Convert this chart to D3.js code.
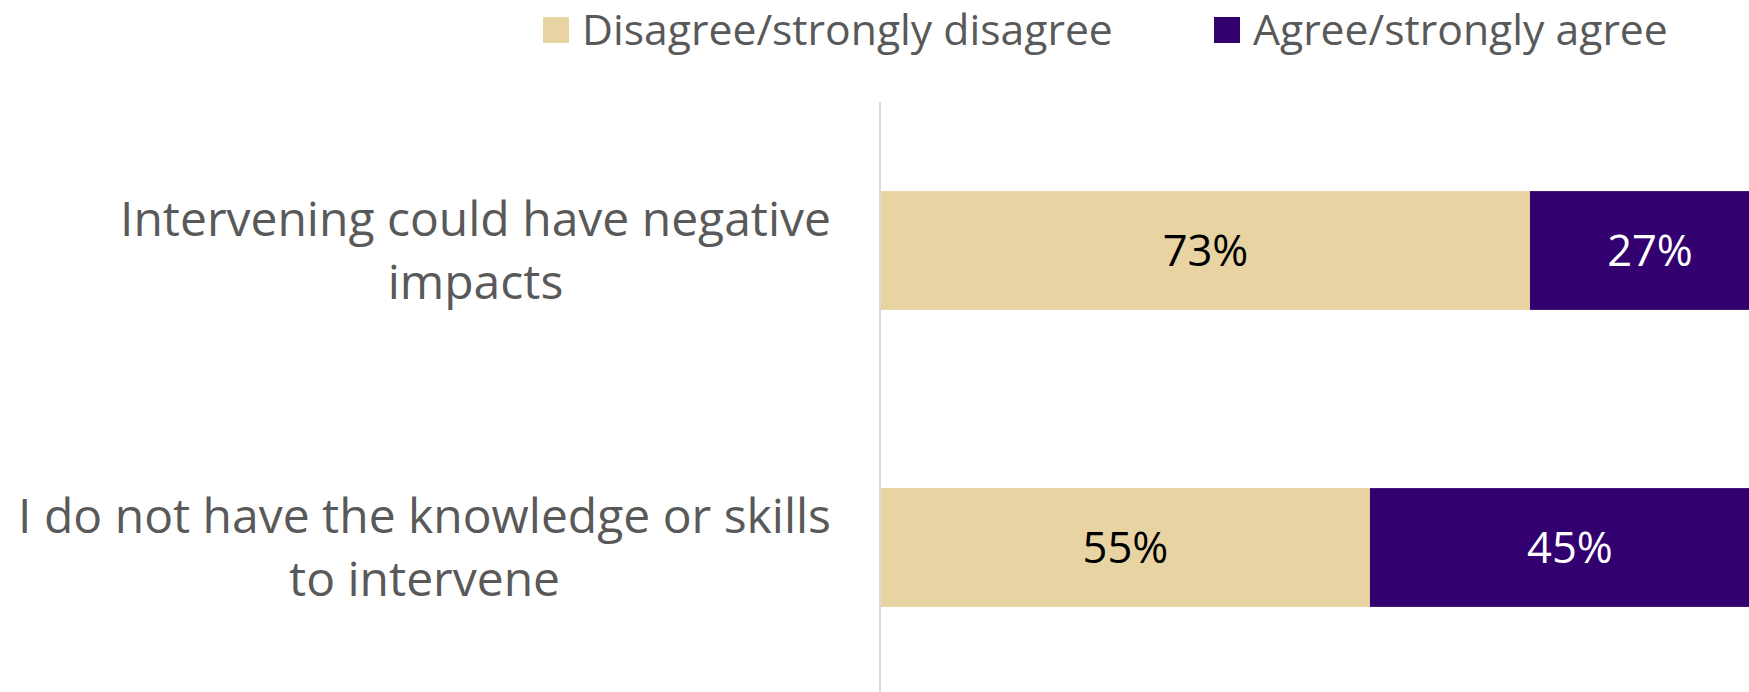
<!DOCTYPE html>
<html>
<head>
<meta charset="utf-8">
<script src="https://cdn.jsdelivr.net/npm/d3@7"></script>
<style>
  html, body { margin: 0; padding: 0; background: #ffffff; }
  svg { display: block; }
  text { font-family: "Open Sans", "Noto Sans", sans-serif; }
</style>
</head>
<body>
<svg id="chart" width="1749" height="692"></svg>
<script>
// Survey statements (each label split into its display lines)
const categories = [
  "Intervening could have negative impacts",
  "I do not have the knowledge or skills to intervene"
];
const categoryLines = [
  ["Intervening could have negative", "impacts"],
  ["I do not have the knowledge or skills", "to intervene"]
];
const seriesNames = ["Disagree/strongly disagree", "Agree/strongly agree"];
const disagree = [73, 55];
const agree = [27, 45];
const seriesColors = ["#E8D3A2", "#33006F"];
const valueTextColors = ["#000000", "#ffffff"];

const W = 1749, H = 692;
const svg = d3.select("#chart");

const plotLeft = 881, plotRight = 1770, plotTop = 102, plotBottom = 696;

const x = d3.scaleLinear().domain([0, 100]).range([plotLeft, plotRight]);
const y = d3.scaleBand()
  .domain(categories)
  .range([plotTop, plotBottom])
  .paddingInner(0.6)
  .paddingOuter(0.3);

// Stack the two answers per statement
const rows = categories.map((c, i) => ({ cat: c, d: disagree[i], a: agree[i] }));
const stack = d3.stack().keys(["d", "a"]);
const layers = stack(rows);

const barG = svg.append("g");
layers.forEach((layer, li) => {
  barG.selectAll(null)
    .data(layer)
    .join("rect")
    .attr("x", d => x(d[0]))
    .attr("y", d => y(d.data.cat))
    .attr("width", d => x(d[1]) - x(d[0]))
    .attr("height", y.bandwidth())
    .attr("fill", seriesColors[li]);

  barG.selectAll(null)
    .data(layer)
    .join("text")
    .attr("x", d => (x(d[0]) + x(d[1])) / 2)
    .attr("y", d => y(d.data.cat) + y.bandwidth() / 2)
    .attr("dy", "0.36em")
    .attr("text-anchor", "middle")
    .attr("font-size", 43.5)
    .attr("fill", valueTextColors[li])
    .text(d => (d[1] - d[0]) + "%");
});

// Vertical category axis line
svg.append("line")
  .attr("x1", plotLeft - 1).attr("x2", plotLeft - 1)
  .attr("y1", plotTop).attr("y2", H)
  .attr("stroke", "#d9d9d9")
  .attr("stroke-width", 2);

// Category labels: block right-aligned to the axis, lines centred inside the block
const labelRight = 831;
const lineGap = 63;
categories.forEach((c, i) => {
  const g = svg.append("g");
  const cy = y(c) + y.bandwidth() / 2;
  const lines = categoryLines[i];
  const texts = lines.map((ln, k) =>
    g.append("text")
      .attr("y", cy + (k - (lines.length - 1) / 2) * lineGap)
      .attr("dy", "0.36em")
      .attr("text-anchor", "middle")
      .attr("font-size", 48)
      .attr("fill", "#595959")
      .text(ln)
  );
  const widths = texts.map(t => t.node().getComputedTextLength());
  const blockW = d3.max(widths);
  texts.forEach(t => t.attr("x", labelRight - blockW / 2));
});

// Legend
const legendX = [543, 1214];
const legend = svg.append("g");
seriesNames.forEach((name, i) => {
  legend.append("rect")
    .attr("x", legendX[i]).attr("y", 17)
    .attr("width", 26).attr("height", 26)
    .attr("fill", seriesColors[i]);
  legend.append("text")
    .attr("x", legendX[i] + 39)
    .attr("y", 30)
    .attr("dy", "0.36em")
    .attr("font-size", 42.7)
    .attr("fill", "#595959")
    .text(name);
});
</script>
</body>
</html>
